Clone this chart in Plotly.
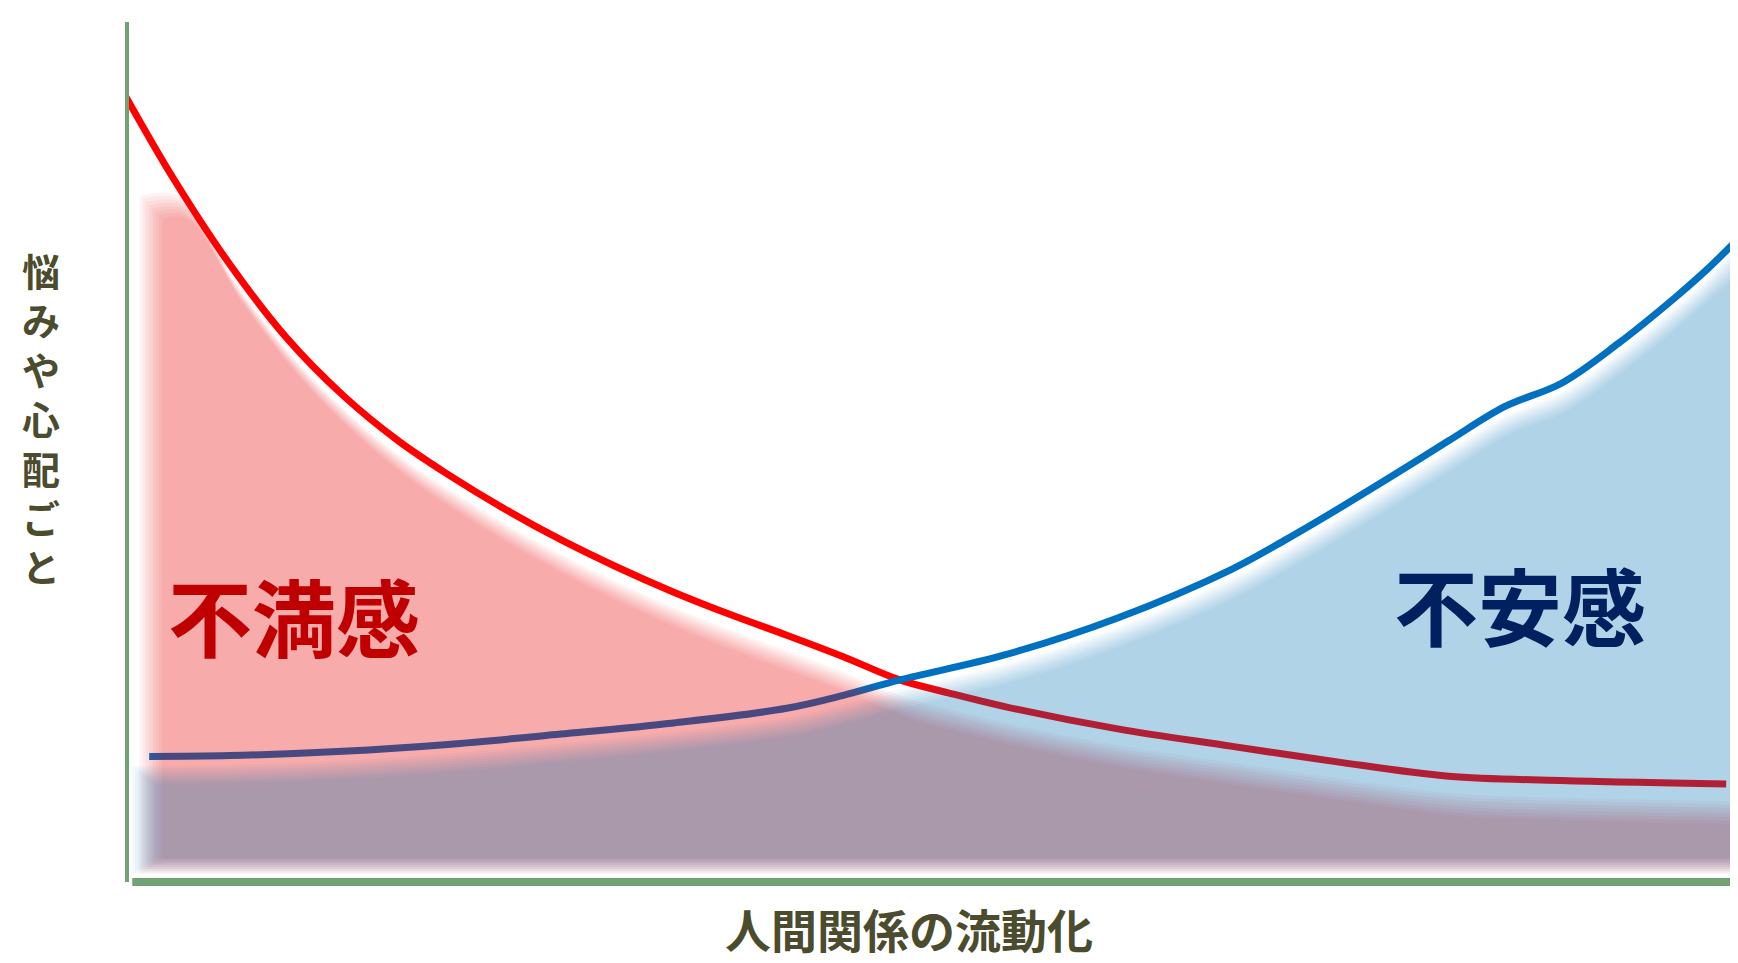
import plotly.graph_objects as go

# ---------------- data ----------------
x_title = "人間関係の流動化"
y_title = "悩みや心配ごと"
red_name = "不満感"
blue_name = "不安感"

# x: degree of fluidity (0-100), y: amount of worries (0-100)
red_x = [0, 3, 6.5, 10, 13.5, 17, 20, 23.5, 27, 30.5, 34, 37.5, 41, 44.5, 48,
         51, 54.5, 61.5, 68.5, 75, 82, 89, 99.2]
red_y = [91.5, 81.8, 71.8, 63.3, 56.6, 51.2, 47.4, 43.4, 39.8, 36.6, 33.7, 31.1,
         28.7, 26.2, 23.5, 22.0, 20.4, 17.8, 15.8, 14.0, 12.3, 11.8, 11.4]

blue_x = [1.5, 6.5, 13.5, 20, 27, 34, 41, 44.5, 48, 54.5, 61.5, 68.5, 72, 75, 78.5,
          82, 85.5, 89, 92.5, 96, 98, 100]
blue_y = [14.6, 14.7, 15.2, 16.0, 17.2, 18.5, 20.2, 21.7, 23.5, 26.4, 30.7, 36.3,
          39.9, 43.2, 47.2, 51.3, 55.3, 58.0, 62.6, 67.9, 71.2, 74.9]

# ---------------- styles ----------------
FONT = "Noto Sans CJK JP"
RED = "#FF0000"
BLUE = "#0070C0"
AXIS_GREEN = "#72A274"
TITLE_COLOR = "#4B4B2D"
X_MAX = 100.43
FILL_BASE = 1.0
N_LAYERS = 8

fig = go.Figure()

# curves (drawn first; the translucent fills tint them where they overlap)
fig.add_trace(go.Scatter(x=red_x, y=red_y, mode="lines",
                         line=dict(color=RED, width=7, shape="spline", smoothing=1.0),
                         hoverinfo="skip"))
fig.add_trace(go.Scatter(x=blue_x, y=blue_y, mode="lines",
                         line=dict(color=BLUE, width=7, shape="spline", smoothing=1.0),
                         hoverinfo="skip"))


def soft_fill(xs, ys, rgb, total_alpha, dx0, dy0, step_x, step_y,
              x_left=None, x_right=None, cap_top=False):
    # several translucent layers, each pulled a little further inward -> soft edge
    b = 1 - (1 - total_alpha) ** (1.0 / N_LAYERS)
    for k in range(N_LAYERS):
        dx = dx0 + k * step_x
        dy = dy0 + k * step_y
        fx = [v + dx for v in xs]
        fy = [v - dy for v in ys]
        if cap_top:
            # rounded, lowered top-left corner of the area
            fx = [xs[0] + 0.9 + k * 0.2] + fx[1:]
            fy = [fy[1]] + fy[1:]
        if x_left is not None:
            fx = [x_left + k * 0.2] + fx
            fy = [fy[0]] + fy
        if x_right is not None:
            fx = fx + [x_right - k * 0.2]
            fy = fy + [fy[-1]]
        base = FILL_BASE + k * 0.25
        fig.add_trace(go.Scatter(x=[fx[0], fx[-1]], y=[base, base], mode="lines",
                                 line=dict(width=0), hoverinfo="skip"))
        fig.add_trace(go.Scatter(x=fx, y=fy, mode="lines", fill="tonexty",
                                 line=dict(width=0, shape="spline", smoothing=1.0),
                                 fillcolor=f"rgba({rgb},{b:.4f})", hoverinfo="skip"))


soft_fill(red_x, red_y, "239,0,0", 0.31, 0.3, 2.0, 0.08, 0.38, cap_top=True)
soft_fill(blue_x, blue_y, "0,112,192", 0.30, 0.0, 1.1, 0.05, 0.3,
          x_left=0.4, x_right=X_MAX + 0.5)

# axes drawn as thick green lines
fig.add_shape(type="line", xref="x", yref="paper", x0=0, x1=0, y0=0, y1=1,
              line=dict(color=AXIS_GREEN, width=8))
fig.add_shape(type="line", xref="x", yref="paper", x0=0.45, x1=99.75, y0=0, y1=0,
              line=dict(color=AXIS_GREEN, width=8))

# labels
fig.add_annotation(x=10.5, y=31.1, xref="x", yref="y", text=red_name, showarrow=False,
                   font=dict(family=FONT, size=84, color="#C00000", weight=700),
                   xanchor="center", yanchor="middle")
fig.add_annotation(x=86.4, y=32.4, xref="x", yref="y", text=blue_name, showarrow=False,
                   font=dict(family=FONT, size=84, color="#002060", weight=700),
                   xanchor="center", yanchor="middle")
fig.add_annotation(x=0.4837, y=-0.054, xref="paper", yref="paper", text=x_title, showarrow=False,
                   font=dict(family=FONT, size=46, color=TITLE_COLOR, weight=700),
                   xanchor="center", yanchor="middle")
# upright vertical y title: one glyph per line
fig.add_annotation(x=-0.052, y=0.54, xref="paper", yref="paper",
                   text="<br>".join(y_title), showarrow=False,
                   font=dict(family=FONT, size=38, color=TITLE_COLOR, weight=700),
                   xanchor="center", yanchor="middle", align="center")

fig.update_layout(
    width=1738, height=963,
    margin=dict(l=117, r=0, t=14, b=89),
    plot_bgcolor="white", paper_bgcolor="white",
    showlegend=False,
    xaxis=dict(range=[0, X_MAX], visible=False, fixedrange=True),
    yaxis=dict(range=[0, 100], visible=False, fixedrange=True),
)

fig.write_html("out.html")
